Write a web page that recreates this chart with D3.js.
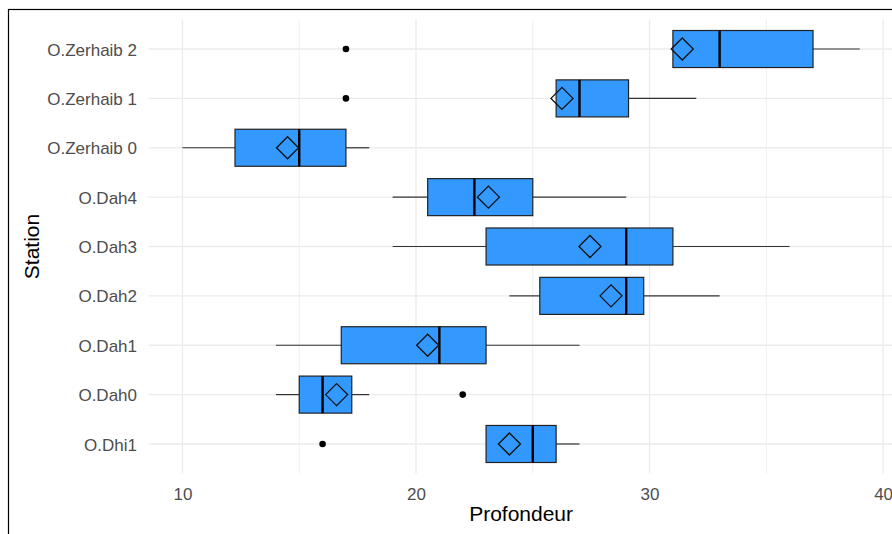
<!DOCTYPE html>
<html>
<head>
<meta charset="utf-8">
<script src="https://cdn.jsdelivr.net/npm/d3@7"></script>
<style>
  html, body { margin: 0; padding: 0; background: #fff; }
  svg { display: block; font-family: "Liberation Sans", Arial, sans-serif; }
</style>
</head>
<body>
<svg id="chart" width="892" height="534"></svg>
<script>
// Stations, listed from bottom to top of the chart
const stations = ["O.Dhi1", "O.Dah0", "O.Dah1", "O.Dah2", "O.Dah3", "O.Dah4",
                  "O.Zerhaib 0", "O.Zerhaib 1", "O.Zerhaib 2"];
// Box-plot statistics of depth (Profondeur) per station
const whiskerLow  = [23, 14, 14, 24, 19, 19, 10, 26, 31];
const q1          = [23, 15, 16.8, 25.3, 23, 20.5, 12.25, 26, 31];
const medians     = [25, 16, 21, 29, 29, 22.5, 15, 27, 33];
const q3          = [26, 17.25, 23, 29.75, 31, 25, 17, 29.1, 37];
const whiskerHigh = [27, 18, 27, 33, 36, 29, 18, 32, 39];
const means       = [24, 16.6, 20.5, 28.35, 27.45, 23.1, 14.5, 26.25, 31.4];
// Outlying observations
const outlierStations = ["O.Dhi1", "O.Dah0", "O.Zerhaib 1", "O.Zerhaib 2"];
const outlierValues   = [16, 22, 17, 17];
// Axis ticks
const majorTicks = [10, 20, 30, 40];
const minorTicks = [15, 25, 35];

const rows = stations.map((s, i) => ({
  station: s, lo: whiskerLow[i], q1: q1[i], med: medians[i],
  q3: q3[i], hi: whiskerHigh[i], mean: means[i]
}));
const outliers = outlierStations.map((s, i) => ({ station: s, value: outlierValues[i] }));

const svg = d3.select("#chart");
const panel = { left: 148.6, right: 893.6, top: 19.4, bottom: 473.6 };

// x domain: data range expanded by 5% on each side
const allVals = whiskerLow.concat(whiskerHigh, outlierValues);
const xmin = d3.min(allVals), xmax = d3.max(allVals);
const pad = (xmax - xmin) * 0.05;
const x = d3.scaleLinear().domain([xmin - pad, xmax + pad]).range([panel.left, panel.right]);
const y = d3.scalePoint().domain(stations).range([panel.bottom, panel.top]).padding(0.6);
const boxH = y.step() * 0.75;

// Outer frame
svg.append("rect")
  .attr("x", 8.5).attr("y", 9.5).attr("width", 1000).attr("height", 1000)
  .attr("fill", "none").attr("stroke", "#000").attr("stroke-width", 1.2);

// Grid
const grid = svg.append("g");
grid.selectAll("line.minor").data(minorTicks).join("line")
  .attr("x1", d => x(d)).attr("x2", d => x(d))
  .attr("y1", panel.top).attr("y2", panel.bottom)
  .attr("stroke", "#ebebeb").attr("stroke-width", 0.8);
grid.selectAll("line.majx").data(majorTicks).join("line")
  .attr("x1", d => x(d)).attr("x2", d => x(d))
  .attr("y1", panel.top).attr("y2", panel.bottom)
  .attr("stroke", "#ebebeb").attr("stroke-width", 1.3);
grid.selectAll("line.majy").data(stations).join("line")
  .attr("x1", panel.left).attr("x2", panel.right)
  .attr("y1", d => y(d)).attr("y2", d => y(d))
  .attr("stroke", "#ebebeb").attr("stroke-width", 1.3);

// Axes (labels only)
const xAxis = svg.append("g").attr("transform", `translate(0,${panel.bottom})`)
  .call(d3.axisBottom(x).tickValues(majorTicks).tickSize(0).tickFormat(d3.format("d")));
xAxis.select(".domain").remove();
xAxis.selectAll("text").attr("y", 26.4).attr("dy", 0)
  .attr("font-size", 17).attr("fill", "#4d4d4d").attr("font-family", "Liberation Sans, Arial, sans-serif");

const yAxis = svg.append("g").attr("transform", `translate(${panel.left},0)`)
  .call(d3.axisLeft(y).tickSize(0));
yAxis.select(".domain").remove();
yAxis.selectAll("text").attr("x", -11.6).attr("dy", "0.36em")
  .attr("font-size", 17).attr("fill", "#4d4d4d").attr("font-family", "Liberation Sans, Arial, sans-serif");

// Axis titles
svg.append("text").attr("x", (panel.left + panel.right) / 2).attr("y", 521)
  .attr("text-anchor", "middle").attr("font-size", 21).attr("fill", "#000")
  .text("Profondeur");
svg.append("text").attr("transform", `translate(38.5,${(panel.top + panel.bottom) / 2}) rotate(-90)`)
  .attr("text-anchor", "middle").attr("font-size", 21).attr("fill", "#000")
  .text("Station");

// Boxes
const g = svg.append("g");
const box = g.selectAll("g.box").data(rows).join("g");
box.append("line")
  .attr("x1", d => x(d.lo)).attr("x2", d => x(d.q1))
  .attr("y1", d => y(d.station)).attr("y2", d => y(d.station))
  .attr("stroke", "#333").attr("stroke-width", 1.2);
box.append("line")
  .attr("x1", d => x(d.q3)).attr("x2", d => x(d.hi))
  .attr("y1", d => y(d.station)).attr("y2", d => y(d.station))
  .attr("stroke", "#333").attr("stroke-width", 1.2);
box.append("rect")
  .attr("x", d => x(d.q1)).attr("width", d => x(d.q3) - x(d.q1))
  .attr("y", d => y(d.station) - boxH / 2).attr("height", boxH)
  .attr("fill", "#3399ff").attr("stroke", "#222").attr("stroke-width", 1.2);
box.append("line")
  .attr("x1", d => x(d.med)).attr("x2", d => x(d.med))
  .attr("y1", d => y(d.station) - boxH / 2).attr("y2", d => y(d.station) + boxH / 2)
  .attr("stroke", "#000").attr("stroke-width", 2.4);

// Mean markers (open diamonds)
const r = 11;
box.append("path")
  .attr("d", d => {
    const cx = x(d.mean), cy = y(d.station);
    return `M${cx - r},${cy}L${cx},${cy - r}L${cx + r},${cy}L${cx},${cy + r}Z`;
  })
  .attr("fill", "none").attr("stroke", "#111").attr("stroke-width", 1.3);

// Outliers
g.selectAll("circle").data(outliers).join("circle")
  .attr("cx", d => x(d.value)).attr("cy", d => y(d.station))
  .attr("r", 3.3).attr("fill", "#000");
</script>
</body>
</html>
